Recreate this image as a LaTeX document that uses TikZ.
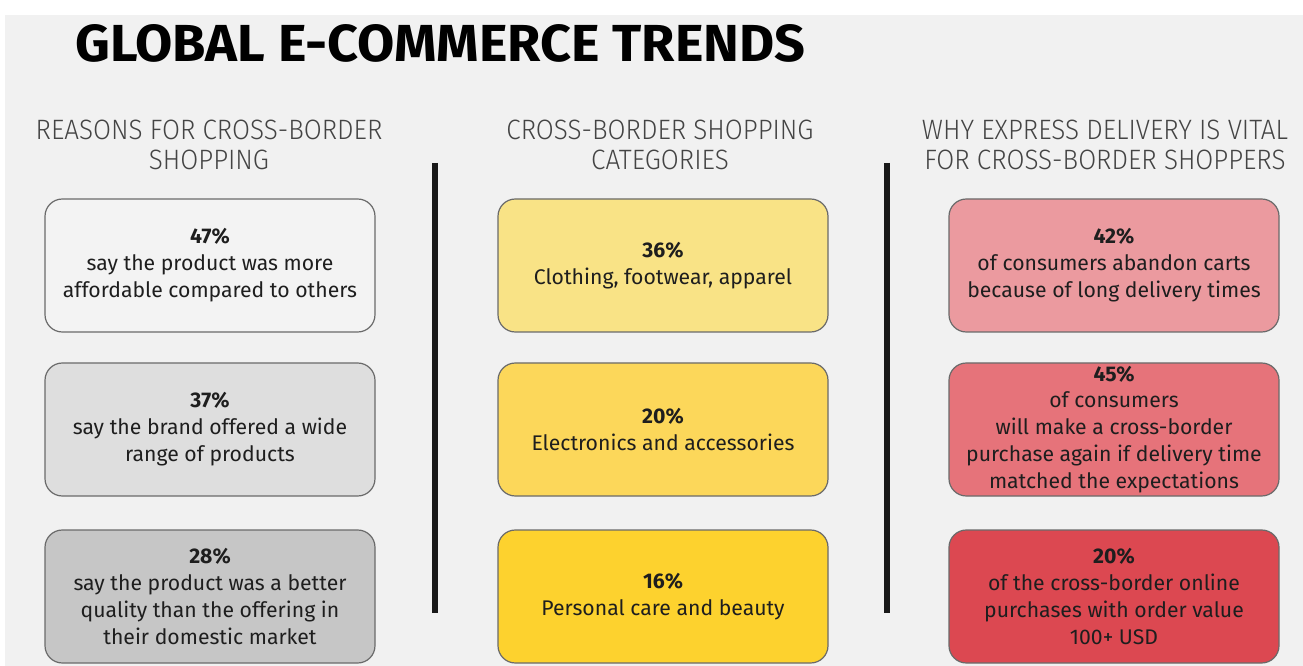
\documentclass[tikz,border=0pt]{standalone}
\usepackage{fontspec}
\setmainfont{Fira Sans}
\newfontfamily\titlefont{Fira Sans}[FakeStretch=0.78]
\newfontfamily\headfont{Fira Sans}[UprightFont=* Light, FakeStretch=0.93]
\definecolor{bg}{HTML}{F1F1F1}
\definecolor{txt}{HTML}{1E1E1E}
\definecolor{headc}{HTML}{444444}
\definecolor{edge}{HTML}{6A6A6A}
\definecolor{gA}{HTML}{F3F3F3}
\definecolor{gB}{HTML}{DEDEDE}
\definecolor{gC}{HTML}{C6C6C6}
\definecolor{yA}{HTML}{F9E386}
\definecolor{yB}{HTML}{FCD75A}
\definecolor{yC}{HTML}{FDD22E}
\definecolor{rA}{HTML}{EB9A9F}
\definecolor{rB}{HTML}{E6737A}
\definecolor{rC}{HTML}{DC4851}
\begin{document}
\begin{tikzpicture}[x=0.75pt,y=-0.75pt,
  card/.style={draw=edge,line width=0.9pt,rounded corners=13pt,
    minimum width=247.5pt,minimum height=99.75pt,inner sep=0pt,
    align=center,text=txt,font=\fontsize{15.9pt}{20.2pt}\selectfont},
  head/.style={align=center,text=headc,font=\headfont\fontsize{21pt}{22.5pt}\selectfont},
  divider/.style={line width=3.8pt,black!90}]
\useasboundingbox (0,0) rectangle (1303,666);
\fill[white] (0,0) rectangle (1303,666);
\fill[bg] (5,15) rectangle (1303,666);
\node[anchor=base west,inner sep=0pt] (title) at (75,62)
  {\resizebox{547.5pt}{27.75pt}{\titlefont\bfseries GLOBAL E-COMMERCE TRENDS}};
% headers
\node[head] (h1) at (209,145) {REASONS FOR CROSS-BORDER\\SHOPPING};
\node[head] (h2) at (660,145) {CROSS-BORDER SHOPPING\\CATEGORIES};
\node[head] (h3) at (1105,145) {WHY EXPRESS DELIVERY IS VITAL\\FOR CROSS-BORDER SHOPPERS};
% dividers
\coordinate (d1t) at (435,163); \coordinate (d1b) at (435,613);
\coordinate (d2t) at (887,163); \coordinate (d2b) at (887,613);
\draw[divider] (d1t) -- (d1b);
\draw[divider] (d2t) -- (d2b);
% left column
\node[card,fill=gA] (l1) at (210,265.5) {\textbf{47\%}\\say the product was more\\affordable compared to others};
\node[card,fill=gB] (l2) at (210,429.5) {\textbf{37\%}\\say the brand offered a wide\\range of products};
\node[card,fill=gC] (l3) at (210,596.5) {\textbf{28\%}\\say the product was a better\\quality than the offering in\\their domestic market};
% middle column
\node[card,fill=yA] (m1) at (663,265.5) {\textbf{36\%}\\Clothing, footwear, apparel};
\node[card,fill=yB] (m2) at (663,429.5) {\textbf{20\%}\\Electronics and accessories};
\node[card,fill=yC] (m3) at (663,596.5) {\textbf{16\%}\\Personal care and beauty};
% right column
\node[card,fill=rA] (r1) at (1114,265.5) {\textbf{42\%}\\of consumers abandon carts\\because of long delivery times};
\node[card,fill=rB] (r2) at (1114,429.5) {\textbf{45\%}\\of consumers\\will make a cross-border\\purchase again if delivery time\\matched the expectations};
\node[card,fill=rC] (r3) at (1114,596.5) {\textbf{20\%}\\of the cross-border online\\purchases with order value\\100+ USD};
\end{tikzpicture}
\end{document}
